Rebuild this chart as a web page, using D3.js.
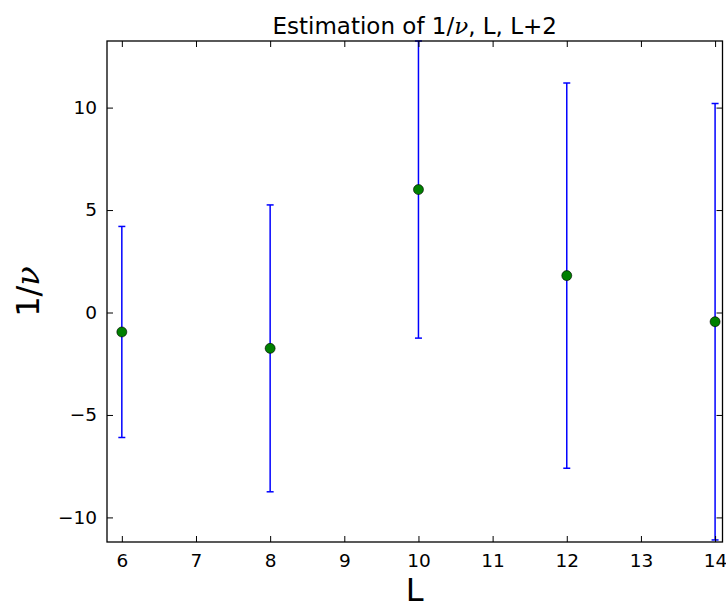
<!DOCTYPE html>
<html>
<head>
<meta charset="utf-8">
<script src="https://cdn.jsdelivr.net/npm/d3@7"></script>
<style>
  body { margin: 0; background: #fff; }
  svg { display: block; font-family: "DejaVu Sans", sans-serif; }
</style>
</head>
<body>
<div id="chart"></div>
<script>
// values
const sizes = [6, 8, 10, 12, 14];
const invNu = [-0.95, -1.75, 6.0, 1.8, -0.45];
const invNuErr = [5.15, 7.0, 7.25, 9.4, 10.65];
const xTicks = [6, 7, 8, 9, 10, 11, 12, 13, 14];
const yTicks = [-10, -5, 0, 5, 10];

const W = 726, H = 605;
const margin = {top: 41, right: 3.5, bottom: 63, left: 107};

const svg = d3.select("#chart").append("svg")
    .attr("width", W)
    .attr("height", H);

const x = d3.scaleLinear().domain([5.8, 14.1]).range([margin.left, W - margin.right]);
const y = d3.scaleLinear().domain([-11.2, 13.25]).range([H - margin.bottom, margin.top]);

const plot = svg.append("g");

// error bars
const bars = plot.selectAll(".err")
    .data(sizes.map((s, i) => ({L: s, v: invNu[i], e: invNuErr[i]})))
    .join("g")
    .attr("class", "err");

bars.append("line")
    .attr("x1", d => x(d.L)).attr("x2", d => x(d.L))
    .attr("y1", d => y(d.v - d.e)).attr("y2", d => y(d.v + d.e))
    .attr("stroke", "#0000ff").attr("stroke-width", 1.5);

bars.selectAll(".cap")
    .data(d => [d.v - d.e, d.v + d.e].map(c => ({L: d.L, c})))
    .join("line")
    .attr("class", "cap")
    .attr("x1", d => x(d.L) - 3.5).attr("x2", d => x(d.L) + 3.5)
    .attr("y1", d => y(d.c)).attr("y2", d => y(d.c))
    .attr("stroke", "#0000ff").attr("stroke-width", 1.5);

bars.append("circle")
    .attr("cx", d => x(d.L))
    .attr("cy", d => y(d.v))
    .attr("r", 5)
    .attr("fill", "#008000")
    .attr("stroke", "#000")
    .attr("stroke-width", 0.6);

// axes with inward ticks on all four sides
const tickLen = 6;
const bottomAxis = d3.axisBottom(x).tickValues(xTicks).tickFormat(d3.format("d")).tickSizeInner(-tickLen).tickSizeOuter(0).tickPadding(12);
const topAxis = d3.axisTop(x).tickValues(xTicks).tickFormat("").tickSizeInner(-tickLen).tickSizeOuter(0);
const leftAxis = d3.axisLeft(y).tickValues(yTicks).tickFormat(d => d < 0 ? "\u2212" + Math.abs(d) : d).tickSizeInner(-tickLen).tickSizeOuter(0).tickPadding(10);
const rightAxis = d3.axisRight(y).tickValues(yTicks).tickFormat("").tickSizeInner(-tickLen).tickSizeOuter(0);

function styleAxis(g) {
  g.select(".domain").remove();
  g.selectAll(".tick line").attr("stroke", "#000").attr("stroke-width", 1);
  g.selectAll(".tick text").attr("fill", "#000").attr("font-size", 18.5).attr("font-family", "DejaVu Sans");
}

svg.append("g").attr("transform", `translate(0,${H - margin.bottom})`).call(bottomAxis).call(styleAxis);
svg.append("g").attr("transform", `translate(0,${margin.top})`).call(topAxis).call(styleAxis);
svg.append("g").attr("transform", `translate(${margin.left},0)`).call(leftAxis).call(styleAxis);
svg.append("g").attr("transform", `translate(${W - margin.right},0)`).call(rightAxis).call(styleAxis);

// frame
svg.append("rect")
    .attr("x", margin.left).attr("y", margin.top)
    .attr("width", W - margin.right - margin.left)
    .attr("height", H - margin.bottom - margin.top)
    .attr("fill", "none").attr("stroke", "#000").attr("stroke-width", 1.3);

const cx = (margin.left + W - margin.right) / 2;

// title
const title = svg.append("text")
    .attr("x", cx).attr("y", 34)
    .attr("text-anchor", "middle")
    .attr("font-size", 23);
title.append("tspan").text("Estimation of 1/");
title.append("tspan").attr("font-family", "DejaVu Serif").attr("font-style", "italic").text("\u03bd");
title.append("tspan").text(", L, L+2");

// x label
svg.append("text")
    .attr("x", cx).attr("y", 601)
    .attr("text-anchor", "middle")
    .attr("font-size", 32)
    .text("L");

// y label
const yl = svg.append("text")
    .attr("transform", `translate(39,${(margin.top + H - margin.bottom) / 2}) rotate(-90)`)
    .attr("text-anchor", "middle")
    .attr("font-size", 32);
yl.append("tspan").text("1/");
yl.append("tspan").attr("font-family", "DejaVu Serif").attr("font-style", "italic").text("\u03bd");
</script>
</body>
</html>
